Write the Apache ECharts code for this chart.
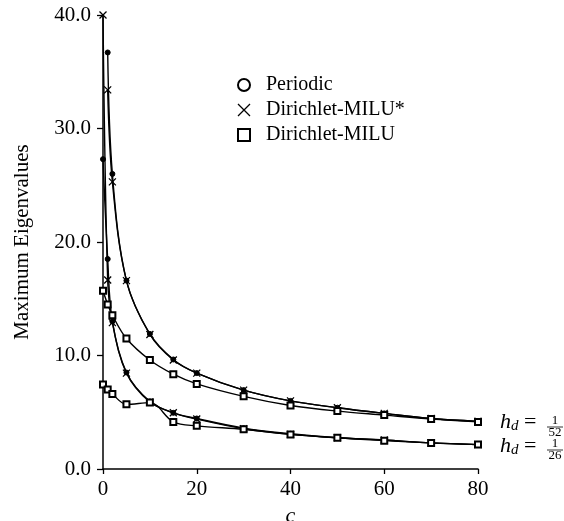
<!DOCTYPE html>
<html>
<head>
<meta charset="utf-8">
<script src="https://cdn.jsdelivr.net/npm/echarts@6/dist/echarts.min.js"></script>
<style>html,body{margin:0;padding:0;background:#fff}#c{width:564px;height:521px}</style>
</head>
<body>
<div id="c"></div>
<script>
// ---- data ----
const cValues = [0, 1, 2, 5, 10, 15, 20, 30, 40, 50, 60, 70, 80];
// h_d = 1/52
const periodic52 = [null, 36.7, 26.0, 16.6, 11.9, 9.65, 8.45, 6.95, 6.0, 5.4, 4.9, 4.45, 4.2];
const miluStar52 = [null, 33.4, 25.3, 16.6, 11.85, 9.6, 8.45, 6.95, 6.0, 5.4, 4.9, 4.45, 4.2];
const milu52 = [15.7, 14.5, 13.55, 11.5, 9.6, 8.35, 7.5, 6.4, 5.6, 5.1, 4.75, 4.4, 4.15];
// h_d = 1/26
const periodic26 = [27.3, 18.5, 13.0, 8.5, 5.95, 4.95, 4.45, 3.6, 3.1, 2.75, 2.55, 2.3, 2.15];
const miluStar26 = [40.0, 16.65, 12.9, 8.45, 5.9, 4.95, 4.4, 3.55, 3.05, 2.75, 2.55, 2.3, 2.15];
const milu26 = [7.45, 7.0, 6.6, 5.7, 5.85, 4.15, 3.8, 3.5, 3.05, 2.75, 2.5, 2.3, 2.15];
const yTicks = [0, 10, 20, 30, 40];
const xTicks = [0, 20, 40, 60, 80];
const legendNames = ['Periodic', 'Dirichlet-MILU*', 'Dirichlet-MILU'];

const FONT = 'Liberation Serif';
const CROSS = 'path://M0,0L10,10M10,0L0,10';

function pairs(arr) {
  return cValues.map((c, i) => [c, arr[i]]).filter(p => p[1] !== null);
}
function mk(name, arr, kind) {
  const s = {
    name: name, type: 'line', data: pairs(arr), smooth: 0.35,
    lineStyle: { color: '#000', width: 1.4 },
    itemStyle: { color: '#000', borderColor: '#000', borderWidth: 1 },
    emphasis: { disabled: true }, z: 3
  };
  if (kind === 'dot') { s.symbol = 'circle'; s.symbolSize = 5; }
  if (kind === 'cross') { s.symbol = CROSS; s.symbolSize = 7; s.itemStyle.borderWidth = 1.3; }
  if (kind === 'square') { s.symbol = 'emptyRect'; s.symbolSize = 6; }
  return s;
}

const fracStyle = { fontFamily: FONT, fontSize: 13, fill: '#000', align: 'center', verticalAlign: 'middle' };
const hRich = {
  h: { fontFamily: FONT, fontSize: 22, fontStyle: 'italic', fill: '#000' },
  d: { fontFamily: FONT, fontSize: 15, fontStyle: 'italic', fill: '#000', padding: [8, 0, 0, 0] },
  e: { fontFamily: FONT, fontSize: 22, fill: '#000' }
};

const chart = echarts.init(document.getElementById('c'));
chart.setOption({
  animation: false,
  backgroundColor: '#fff',
  grid: { left: 103, right: 86, top: 15, bottom: 52, containLabel: false, outerBoundsMode: 'none' },
  legend: {
    orient: 'vertical', left: 232, top: 70, itemGap: 5,
    itemWidth: 12, itemHeight: 12,
    textStyle: { fontFamily: FONT, fontSize: 20, color: '#000', padding: [0, 0, 0, 11] },
    data: [
      { name: legendNames[0], icon: 'emptyCircle', itemStyle: { color: '#000', borderColor: '#000', borderWidth: 1.2 } },
      { name: legendNames[1], icon: CROSS, itemStyle: { color: '#000', borderColor: '#000', borderWidth: 1.3 } },
      { name: legendNames[2], icon: 'emptyRect', itemStyle: { color: '#000', borderColor: '#000', borderWidth: 1.2 } }
    ]
  },
  xAxis: {
    type: 'value', min: xTicks[0], max: xTicks[xTicks.length - 1], interval: 20,
    name: 'c', nameLocation: 'middle', nameGap: 31,
    nameTextStyle: { fontFamily: FONT, fontSize: 22, fontStyle: 'italic', color: '#000' },
    axisLine: { lineStyle: { color: '#000', width: 1.5 } },
    axisTick: { length: 5, lineStyle: { color: '#000', width: 1.3 } },
    axisLabel: { fontFamily: FONT, fontSize: 21, color: '#000', margin: 10 },
    splitLine: { show: false }
  },
  yAxis: {
    type: 'value', min: yTicks[0], max: yTicks[yTicks.length - 1], interval: 10,
    name: 'Maximum Eigenvalues', nameLocation: 'middle', nameGap: 70,
    nameTextStyle: { fontFamily: FONT, fontSize: 21, color: '#000' },
    axisLine: { lineStyle: { color: '#000', width: 1.5 } },
    axisTick: { length: 6, lineStyle: { color: '#000', width: 1.3 } },
    axisLabel: { fontFamily: FONT, fontSize: 21, color: '#000', margin: 12, formatter: v => v.toFixed(1) },
    splitLine: { show: false }
  },
  series: [
    mk(legendNames[0], periodic52, 'dot'),
    mk(legendNames[1], miluStar52, 'cross'),
    mk(legendNames[2], milu52, 'square'),
    mk(legendNames[0], periodic26, 'dot'),
    mk(legendNames[1], miluStar26, 'cross'),
    mk(legendNames[2], milu26, 'square')
  ],
  graphic: [
    { type: 'text', left: 500, top: 411, style: { text: '{h|h}{d|d}{e| =}', rich: hRich } },
    { type: 'text', x: 555, y: 421, style: Object.assign({ text: '1' }, fracStyle) },
    { type: 'line', shape: { x1: 547, y1: 427, x2: 563, y2: 427 }, style: { stroke: '#000', lineWidth: 0.8 } },
    { type: 'text', x: 555, y: 433, style: Object.assign({ text: '52' }, fracStyle) },
    { type: 'text', left: 500, top: 435, style: { text: '{h|h}{d|d}{e| =}', rich: hRich } },
    { type: 'text', x: 555, y: 444, style: Object.assign({ text: '1' }, fracStyle) },
    { type: 'line', shape: { x1: 547, y1: 450, x2: 563, y2: 450 }, style: { stroke: '#000', lineWidth: 0.8 } },
    { type: 'text', x: 555, y: 456, style: Object.assign({ text: '26' }, fracStyle) }
  ]
});
</script>
</body>
</html>
